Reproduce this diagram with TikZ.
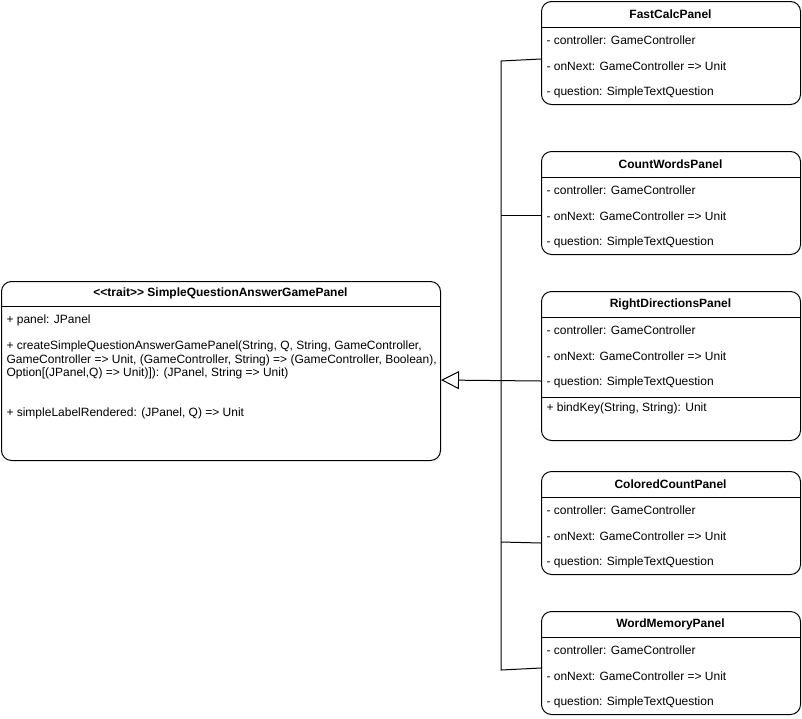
\documentclass[tikz,border=0pt]{standalone}
\usepackage{fontspec}
\setmainfont{Liberation Sans}
\usetikzlibrary{arrows.meta}
\begin{document}
\begin{tikzpicture}[x=0.75pt,y=-0.75pt,line width=0.75pt,
  cls/.style={draw,rounded corners=7.5pt,anchor=north west,inner sep=0pt,minimum width=194.25pt,minimum height=77.25pt},
  ttl/.style={font=\fontsize{9}{11}\selectfont\bfseries,inner sep=0pt,anchor=center},
  attr/.style={font=\fontsize{9}{10.1}\selectfont,inner sep=0pt,anchor=west,align=left},
  conn/.style={draw,line width=0.75pt},
  inh/.style={conn,-{Triangle[open,length=13.5pt,width=13.5pt]}}]
\useasboundingbox (0,0) rectangle (802,718);

% ---- trait box
\node[cls,minimum width=329.25pt,minimum height=134.25pt] (tr) at (1,281) {};
\draw (tr.west |- 0,306) -- (tr.east |- 0,306);
\node[ttl] (trt) at (220.5,293) {<\kern0pt<trait>\kern0pt> SimpleQuestionAnswerGamePanel};
\node[attr] (tra1) at (6,320) {+ panel: JPanel};
\node[attr] (tra2) at (6,360) {+ createSimpleQuestionAnswerGamePanel(String, Q, String, GameController,\\GameController => Unit, (GameController, String) => (GameController, Boolean),\\Option[(JPanel,Q) => Unit)]): (JPanel, String => Unit)};
\node[attr] (tra3) at (6,413) {+ simpleLabelRendered: (JPanel, Q) => Unit};

% ---- FastCalcPanel
\node[cls] (fc) at (541,1) {};
\draw (fc.west |- 0,27) -- (fc.east |- 0,27);
\node[ttl] (fct) at (670.5,14) {FastCalcPanel};
\node[attr] (fc1) at (546,40) {- controller: GameController};
\node[attr] (fc2) at (546,66) {- onNext: GameController => Unit};
\node[attr] (fc3) at (546,92) {- question: SimpleTextQuestion};

% ---- CountWordsPanel
\node[cls] (cw) at (541,151) {};
\draw (cw.west |- 0,177) -- (cw.east |- 0,177);
\node[ttl] (cwt) at (670.5,164) {CountWordsPanel};
\node[attr] (cw1) at (546,190) {- controller: GameController};
\node[attr] (cw2) at (546,216) {- onNext: GameController => Unit};
\node[attr] (cw3) at (546,242) {- question: SimpleTextQuestion};

% ---- RightDirectionsPanel
\node[cls,minimum height=111.75pt] (rd) at (541,291) {};
\draw (rd.west |- 0,317) -- (rd.east |- 0,317);
\draw (rd.west |- 0,397) -- (rd.east |- 0,397);
\node[ttl] (rdt) at (670.5,304) {RightDirectionsPanel};
\node[attr] (rd1) at (546,330) {- controller: GameController};
\node[attr] (rd2) at (546,356) {- onNext: GameController => Unit};
\node[attr] (rd3) at (546,382) {- question: SimpleTextQuestion};
\node[attr] (rd4) at (546,408) {+ bindKey(String, String): Unit};

% ---- ColoredCountPanel
\node[cls] (cc) at (541,471) {};
\draw (cc.west |- 0,497) -- (cc.east |- 0,497);
\node[ttl] (cct) at (670.5,484) {ColoredCountPanel};
\node[attr] (cc1) at (546,510) {- controller: GameController};
\node[attr] (cc2) at (546,536) {- onNext: GameController => Unit};
\node[attr] (cc3) at (546,562) {- question: SimpleTextQuestion};

% ---- WordMemoryPanel
\node[cls] (wm) at (541,611) {};
\draw (wm.west |- 0,637) -- (wm.east |- 0,637);
\node[ttl] (wmt) at (670.5,624) {WordMemoryPanel};
\node[attr] (wm1) at (546,650) {- controller: GameController};
\node[attr] (wm2) at (546,676) {- onNext: GameController => Unit};
\node[attr] (wm3) at (546,702) {- question: SimpleTextQuestion};

% ---- connectors
\coordinate (fcp) at (fc.west |- 0,59);
\coordinate (cwp) at (cw.west |- 0,215);
\coordinate (rdp) at (rd.west |- 0,381);
\coordinate (ccp) at (cc.west |- 0,543);
\coordinate (wmp) at (wm.west |- 0,668);
\coordinate (j1) at (501,61);
\coordinate (j2) at (501,215);
\coordinate (j4) at (501,542);
\coordinate (j5) at (501,670);
\coordinate (trp) at (tr.east |- 0,380);
\draw[conn] (fcp) -- (j1) -- (j5) -- (wmp);
\draw[conn] (cwp) -- (j2);
\draw[conn] (ccp) -- (j4);
\draw[inh] (rdp) -- (trp);
\end{tikzpicture}
\end{document}
